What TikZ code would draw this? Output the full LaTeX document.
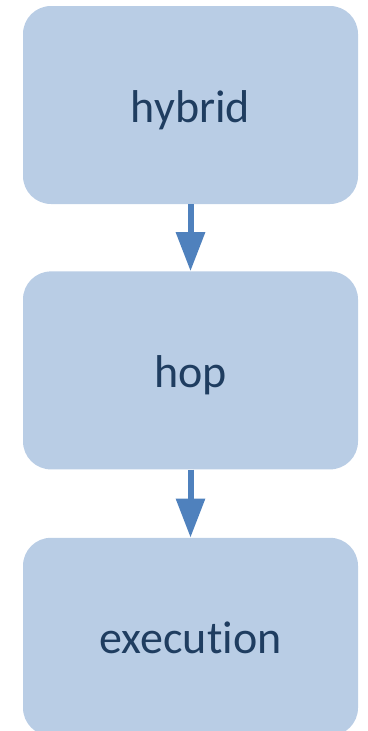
\documentclass[tikz,border=0pt]{standalone}
\usepackage{fontspec}
\setmainfont{Carlito}[Ligatures=NoCommon]
\usetikzlibrary{arrows.meta,positioning}
\definecolor{boxfill}{RGB}{185,205,229}
\definecolor{boxtext}{RGB}{31,61,96}
\definecolor{arrowblue}{RGB}{79,129,189}
\begin{document}
\begin{tikzpicture}[x=1pt,y=1pt,
    stage/.style={fill=boxfill,text=boxtext,rounded corners=28pt,
        minimum width=335pt,minimum height=198pt,inner sep=0pt,
        text height=34pt,text depth=0pt,
        font=\fontsize{46}{54}\selectfont},
    flow/.style={draw=arrowblue,line width=6pt,
        -{Triangle[width=28pt,length=39pt]}},
    ]
    \useasboundingbox (0,0) rectangle (367,-731);
    \node[stage] (hybrid) at (190.5,-105) {hybrid}; % <<< box 1
    \node[stage,below=67pt of hybrid] (hop) {hop}; % <<< box 2
    \node[stage,below=68pt of hop] (exec) {execution}; % <<< box 3
    \draw[flow] (hybrid)--(hop);
    \draw[flow] (hop)--(exec);
\end{tikzpicture}
\end{document}
